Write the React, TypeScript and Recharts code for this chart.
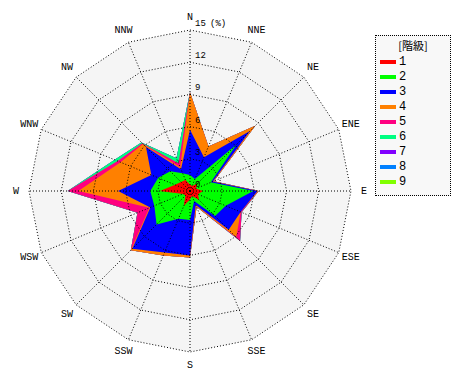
import { RadarChart, Radar, PolarGrid, PolarAngleAxis, PolarRadiusAxis, Legend } from "recharts"

// 風向別・階級別の出現率 (%)
const directions = ["N", "NNE", "NE", "ENE", "E", "ESE", "SE", "SSE", "S", "SSW", "SW", "WSW", "W", "WNW", "NW", "NNW"]

const classNames = ["1", "2", "3", "4", "5", "6", "7", "8", "9"]
const classColors = ["#ff0000", "#00ff00", "#0000ff", "#ff8000", "#ff0080", "#00ff80", "#8000ff", "#0080ff", "#80ff00"]

const class1 = [0.6, 0.5, 1.0, 0.6, 1.2, 0.8, 1.2, 0.5, 0.8, 1.5, 0.6, 0.7, 2.8, 1.5, 1.2, 1.1]
const class2 = [0.9, 0.7, 5.1, 1.5, 4.7, 2.8, 2.1, 0.5, 1.9, 1.3, 3.8, 2.9, 0.9, 1.7, 1.4, 0.7]
const class3 = [4.2, 2.2, 1.8, 0.2, 0.4, 1.5, 1.8, 0.4, 3.3, 3.4, 3.2, 0.4, 3.0, 0.7, 3.2, 0.4]
const class4 = [3.5, 1.1, 0.7, 0.1, 0.1, 0.0, 1.0, 0.2, 0.2, 0.3, 0.2, 0.1, 3.7, 3.1, 0.4, 0.2]
const class5 = [0, 0, 0, 0, 0, 0.1, 0.5, 0, 0, 0, 0, 1.2, 1.0, 0.3, 0.1, 0.4]
const class6 = [0, 0, 0, 0, 0, 0, 0, 0, 0, 0, 0, 0, 0, 0.3, 0.1, 0.5]
const class7 = [0, 0, 0, 0, 0, 0, 0, 0, 0, 0, 0, 0, 0, 0, 0, 0]
const class8 = [0, 0, 0, 0, 0, 0, 0, 0, 0, 0, 0, 0, 0, 0, 0, 0]
const class9 = [0, 0, 0, 0, 0, 0, 0, 0, 0, 0, 0, 0, 0, 0, 0, 0]

const radiusTicks = [0, 3, 6, 9, 12, 15]
const RMAX = 15

const classValues = [class1, class2, class3, class4, class5, class6, class7, class8, class9]

// 積み上げ (累積) で描く
const data = directions.map((dir, i) => {
  const row: Record<string, number | string> = { dir, bg: RMAX }
  let sum = 0
  classValues.forEach((vals, k) => {
    sum += vals[i]
    row["c" + (k + 1)] = Math.round(sum * 100) / 100
  })
  return row
})

const LABEL_FONT = "'Liberation Mono', 'DejaVu Sans Mono', monospace"

function AngleTick(props: any) {
  const { x, y, payload } = props
  return (
    <text x={x} y={y} textAnchor="middle" dominantBaseline="central" fontSize={10} fontFamily={LABEL_FONT} fill="#000">
      {payload.value}
    </text>
  )
}

function RadiusTick(props: any) {
  const { x, y, payload } = props
  return (
    <g>
      <text x={x + 5} y={y - 4} textAnchor="start" fontSize={9} fontFamily={LABEL_FONT} fill="#000">
        {payload.value}
      </text>
      {payload.value === RMAX && (
        <text x={x + 20} y={y - 4} textAnchor="start" fontSize={9} fontFamily={LABEL_FONT} fill="#000">
          (%)
        </text>
      )}
    </g>
  )
}

function LegendBox(props: any) {
  const items = [...(props.payload ?? [])]
    .filter((p: any) => p.value !== "bg")
    .sort((a: any, b: any) => Number(a.value) - Number(b.value))
  return (
    <div
      style={{
        width: 74,
        height: 159,
        border: "1px dotted #000",
        background: "#f8f8f8",
        fontFamily: "'Noto Sans CJK JP', " + LABEL_FONT,
        fontSize: 11,
        boxSizing: "content-box",
      }}
    >
      <div style={{ textAlign: "center", height: 17, lineHeight: "17px", marginTop: 1 }}>[階級]</div>
      {items.map((it: any) => (
        <div key={it.value} style={{ height: 15, display: "flex", alignItems: "center" }}>
          <span style={{ display: "inline-block", width: 16, height: 4, background: it.color, marginLeft: 4, marginRight: 3 }} />
          <span style={{ fontFamily: LABEL_FONT, fontSize: 12 }}>{it.value}</span>
        </div>
      ))}
    </div>
  )
}

export default function App() {
  const order = classNames.map((_, k) => k).reverse()
  return (
    <div style={{ position: "absolute", left: 0, top: 0, width: 470, height: 380, background: "#fff" }}>
      <RadarChart
        width={470}
        height={380}
        data={data}
        cx={190}
        cy={191}
        outerRadius={161}
        startAngle={90}
        endAngle={-270}
        margin={{ top: 0, right: 0, bottom: 0, left: 0 }}
      >
        <Radar
          name="bg"
          dataKey="bg"
          stroke="none"
          fill="#f5f5f5"
          fillOpacity={1}
          legendType="none"
          isAnimationActive={false}
        />
        {order.map((k) => (
          <Radar
            key={k}
            name={classNames[k]}
            dataKey={"c" + (k + 1)}
            stroke="none"
            fill={classColors[k]}
            fillOpacity={1}
            isAnimationActive={false}
          />
        ))}
        <PolarGrid gridType="polygon" stroke="#000" strokeDasharray="1 2" zIndex={1000} />
        <PolarAngleAxis dataKey="dir" tick={AngleTick} tickLine={false} axisLine={false} tickSize={13} />
        <PolarRadiusAxis
          angle={90}
          domain={[0, RMAX]}
          ticks={radiusTicks as any}
          tickCount={radiusTicks.length}
          axisLine={false}
          tick={RadiusTick}
        />
        <Legend
          layout="vertical"
          align="right"
          verticalAlign="top"
          content={LegendBox}
          wrapperStyle={{ position: "absolute", left: 375, top: 35, width: 76 }}
        />
      </RadarChart>
    </div>
  )
}
